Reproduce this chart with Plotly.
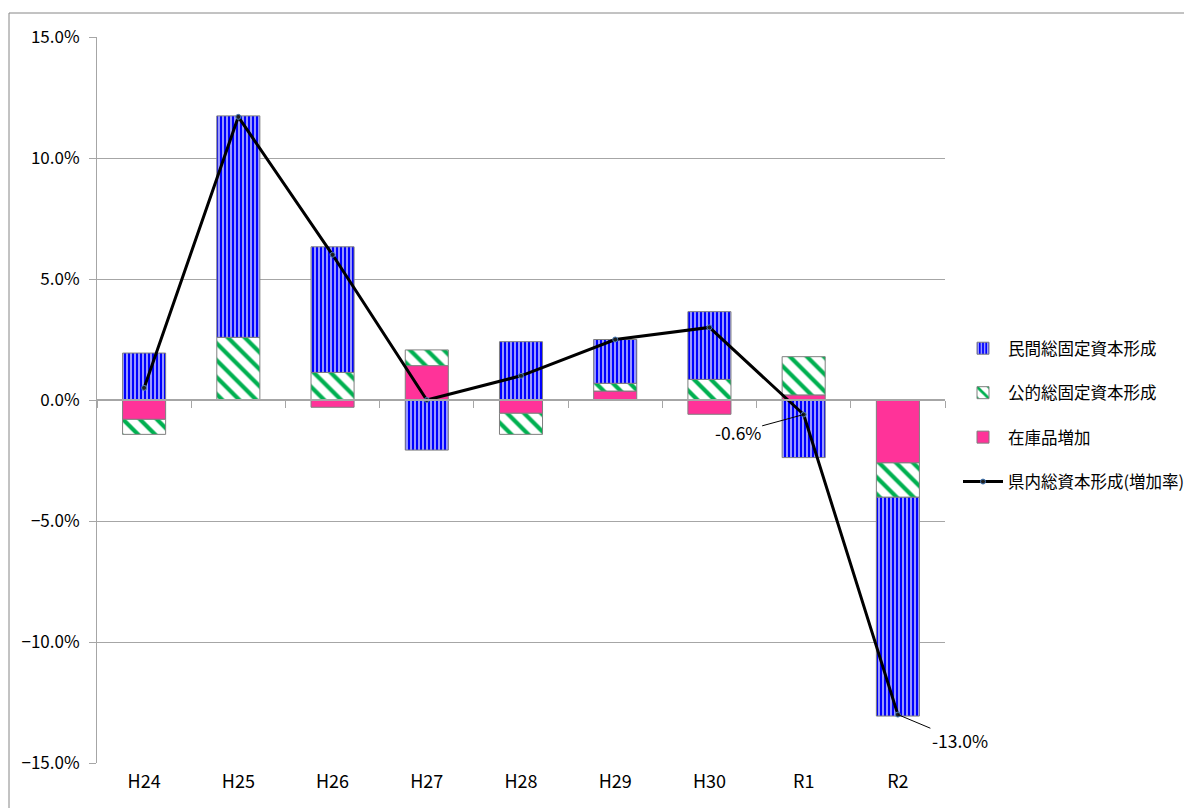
import plotly.graph_objects as go

categories = ["H24", "H25", "H26", "H27", "H28", "H29", "H30", "R1", "R2"]
private_fcf = [1.94, 9.15, 5.19, -2.07, 2.41, 1.81, 2.80, -2.38, -9.04]
public_fcf = [-0.62, 2.59, 1.14, 0.65, -0.87, 0.32, 0.85, 1.58, -1.42]
inventory = [-0.80, 0.0, -0.30, 1.42, -0.55, 0.37, -0.59, 0.21, -2.60]
total_growth = [0.5, 11.7, 6.0, 0.0, 1.0, 2.5, 3.0, -0.6, -13.0]

names = ["民間総固定資本形成", "公的総固定資本形成", "在庫品増加", "県内総資本形成(増加率)"]

FONT = "Noto Sans CJK JP, sans-serif"
OFF = 8  # page body margin
W, H = 1192 - OFF, 808 - OFF
L, T = 97 - OFF, 37 - OFF
PW, PH = 848, 726
R, B = W - L - PW, H - T - PH


def px_x(x):
    return (x - OFF - L) / PW


def px_y(y):
    return (T + PH - (y - OFF)) / PH


fig = go.Figure()

outline = dict(color="#7F7F7F", width=1)

fig.add_trace(go.Bar(
    x=categories, y=inventory, name=names[2], legendrank=3, legendgroup="c",
    marker=dict(color="#FF3399", line=outline),
))
fig.add_trace(go.Bar(
    x=categories, y=public_fcf, name=names[1], legendrank=2, legendgroup="b",
    marker=dict(color="white", line=outline,
                pattern=dict(shape="\\", fgcolor="#00B050", bgcolor="white",
                             size=12, solidity=0.35, fillmode="replace")),
))
fig.add_trace(go.Bar(
    x=categories, y=private_fcf, name=names[0], legendrank=1, legendgroup="a",
    marker=dict(color="#0000FF", line=outline,
                pattern=dict(shape="|", fgcolor="white", bgcolor="#0000FF",
                             size=4, solidity=0.3, fillmode="replace")),
))
fig.add_trace(go.Scatter(
    x=categories, y=total_growth, name=names[3], legendrank=4, legendgroup="d",
    mode="lines+markers",
    line=dict(color="black", width=3),
    marker=dict(size=5, color="#1F1F1F", line=dict(color="#4A7EBB", width=1)),
))
# invisible helper for the zero-line axis ticks
fig.add_trace(go.Scatter(
    x=categories, y=total_growth, xaxis="x2", mode="markers",
    marker=dict(opacity=0), showlegend=False, hoverinfo="skip",
))

fig.update_layout(
    width=W, height=H,
    margin=dict(l=L, r=R, t=T, b=B, autoexpand=False),
    paper_bgcolor="white", plot_bgcolor="white",
    barmode="relative", bargap=0.543,
    font=dict(family=FONT, size=17, color="black"),
    showlegend=True,
    legend=dict(
        x=px_x(958), y=px_y(331), xanchor="left", yanchor="top",
        traceorder="grouped", tracegroupgap=20, itemwidth=40,
        font=dict(family=FONT, size=16.5), bgcolor="rgba(0,0,0,0)",
    ),
    xaxis=dict(
        type="category", categoryorder="array", categoryarray=categories,
        range=[-0.5, 8.5], showgrid=False, showline=False, ticks="",
        tickfont=dict(size=18), zeroline=False, ticklabelstandoff=6,
    ),
    xaxis2=dict(
        type="category", categoryorder="array", categoryarray=categories,
        range=[-0.5, 8.5], overlaying="x", anchor="free", position=0.5,
        showline=True, linecolor="#A6A6A6", linewidth=1.5,
        ticks="outside", tickson="boundaries", ticklen=7, tickcolor="#A6A6A6",
        showticklabels=False, showgrid=False, zeroline=False,
    ),
    yaxis=dict(
        range=[-15, 15], dtick=5, tickformat=".1f", ticksuffix="%",
        showgrid=True, gridcolor="#A6A6A6", gridwidth=1,
        showline=True, linecolor="#A6A6A6", linewidth=1,
        ticks="outside", ticklen=7, tickcolor="#A6A6A6",
        zeroline=False, tickfont=dict(size=17), ticklabelstandoff=6,
    ),
    shapes=[dict(
        type="rect", xref="paper", yref="paper",
        x0=px_x(9), x1=px_x(1190),
        y0=px_y(830), y1=px_y(13),
        line=dict(color="#868686", width=1), fillcolor="rgba(0,0,0,0)", layer="below",
    )],
    annotations=[
        dict(x=categories[7], y=total_growth[7], text="-0.6%", showarrow=True,
             arrowhead=0, arrowwidth=1, arrowcolor="black", ax=-66, ay=18,
             font=dict(size=17.5)),
        dict(x=categories[8], y=total_growth[8], text="-13.0%", showarrow=True,
             arrowhead=0, arrowwidth=1, arrowcolor="black", ax=62, ay=26,
             font=dict(size=17.5)),
    ],
)

fig.write_html("out.html")
